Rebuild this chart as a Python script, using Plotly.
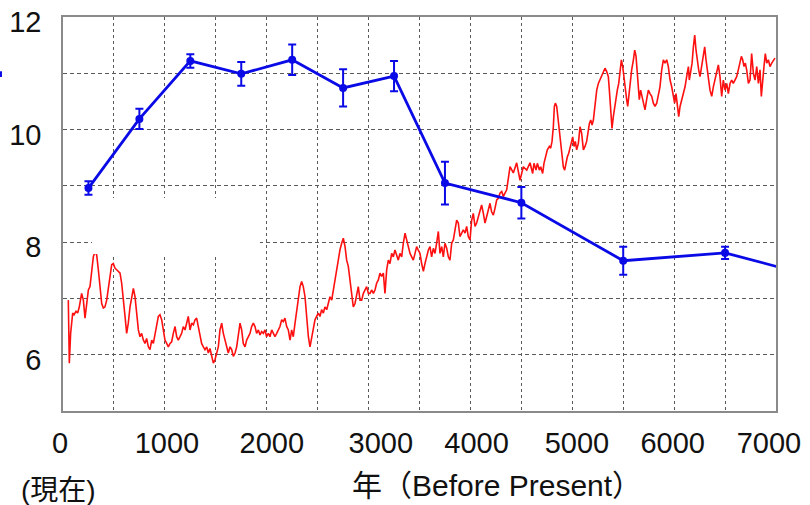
import plotly.graph_objects as go

# Blue series (with error bars)
blue_years = [250, 750, 1250, 1750, 2250, 2750, 3250, 3750, 4500, 5500, 6500, 7500]
blue_vals = [8.96, 10.19, 11.22, 10.99, 11.24, 10.74, 10.95, 9.05, 8.70, 7.67, 7.81, 7.33]
blue_err = [0.12, 0.18, 0.12, 0.21, 0.27, 0.33, 0.27, 0.38, 0.28, 0.25, 0.11, 0.0]

# Red series
red_years = [52, 62, 75, 95, 108, 128, 144, 160, 183, 200, 216, 232, 249, 265, 281, 298, 314, 331, 347, 363,
             380, 396, 412, 429, 445, 461, 478, 494, 510, 527, 543, 560, 576, 592, 609, 625, 641, 658, 674, 691,
             707, 723, 740, 756, 772, 789, 805, 821, 838, 854, 871, 887, 903, 920, 936, 952, 969, 985, 1001, 1018,
             1034, 1051, 1067, 1083, 1100, 1116, 1132, 1149, 1165, 1181, 1198, 1214, 1230, 1247, 1263, 1280, 1296,
             1312, 1329, 1345, 1361, 1378, 1394, 1411, 1427, 1443, 1460, 1476, 1492, 1509, 1525, 1541, 1558, 1574,
             1591, 1607, 1623, 1640, 1656, 1672, 1689, 1705, 1721, 1738, 1754, 1770, 1787, 1803, 1820, 1836, 1852,
             1869, 1885, 1901, 1918, 1934, 1950, 1967, 1983, 1999, 2016,
             2032, 2049, 2065, 2081, 2098, 2114, 2130, 2147, 2163, 2179, 2196, 2212, 2229, 2245, 2261, 2278, 2294,
             2310, 2327, 2343, 2359, 2376, 2392, 2409, 2425, 2441, 2458, 2474, 2490, 2507, 2523, 2539, 2556, 2572,
             2589, 2605, 2621, 2638, 2654, 2670, 2687, 2703, 2719, 2736, 2752, 2769, 2785, 2801, 2818, 2834, 2850,
             2867, 2883, 2899, 2916, 2932, 2949, 2965, 2981, 2998, 3014, 3030, 3047, 3063, 3079, 3096, 3112, 3128,
             3145, 3161, 3171, 3178, 3194, 3210, 3227, 3243, 3259, 3276, 3292, 3308, 3325, 3341, 3358, 3374, 3390,
             3407, 3423, 3439, 3456, 3472, 3488, 3505, 3521, 3538, 3554, 3570, 3587, 3603, 3619, 3636, 3652, 3668,
             3685, 3701, 3718, 3734, 3750, 3767, 3783, 3799, 3816, 3832, 3848, 3865, 3881, 3897, 3914, 3930, 3947,
             3963, 3979, 3996, 4012, 4028, 4045, 4061, 4078, 4094, 4110, 4127, 4143, 4159, 4176, 4192, 4208, 4225,
             4241, 4258, 4274, 4290, 4307, 4323, 4339, 4356,
             4389, 4421, 4454, 4487, 4519, 4553, 4585,
             4611, 4624, 4644, 4657, 4677, 4690, 4709, 4722, 4742, 4755, 4775, 4788, 4801, 4814, 4824, 4834, 4847,
             4860, 4873, 4886, 4899, 4912, 4925, 4938, 4952, 4965, 4978, 4994, 5004, 5017, 5030, 5043, 5060, 5076,
             5092, 5109, 5125, 5141, 5158, 5168, 5181, 5194, 5207, 5223, 5240, 5256, 5272, 5289, 5305, 5321, 5338,
             5354, 5364, 5377, 5390, 5403, 5420, 5429, 5442, 5456, 5469, 5482, 5495, 5508, 5521, 5534, 5544, 5554,
             5567, 5583, 5600, 5613, 5626, 5639, 5649, 5658, 5671, 5685, 5698, 5714, 5730, 5747, 5763, 5780, 5796,
             5812, 5829, 5845, 5861, 5878, 5894, 5910, 5927, 5943, 5960, 5976, 5992, 6005, 6018, 6031, 6045, 6058,
             6074, 6090, 6107, 6123, 6140, 6149, 6162, 6176, 6189, 6202, 6215, 6228, 6241, 6254, 6270, 6287, 6300,
             6313, 6326, 6339, 6352, 6369, 6385, 6401, 6418, 6434, 6450, 6467, 6483, 6500, 6516, 6532, 6549, 6565,
             6581, 6598, 6614, 6630, 6647, 6660, 6673, 6686, 6699, 6712, 6729, 6745, 6761, 6778, 6794, 6811, 6827,
             6843, 6856, 6869, 6882, 6895, 6909, 6925, 6941, 6958, 6974, 6990]
red_vals = [6.97, 5.85, 6.38, 6.74, 6.71, 6.77, 6.74, 6.85, 7.09, 6.97, 6.65, 6.91, 7.15, 7.21, 7.45, 7.74, 7.83, 7.77, 7.51, 7.15,
            6.91, 6.83, 6.85, 6.97, 7.21, 7.45, 7.60, 7.62, 7.54, 7.51, 7.48, 7.45, 7.27, 7.03, 6.68, 6.38, 6.56, 6.85, 7.03, 7.18,
            7.03, 6.74, 6.44, 6.32, 6.38, 6.26, 6.20, 6.29, 6.14, 6.09, 6.26, 6.20, 6.38, 6.56, 6.68, 6.71, 6.62, 6.44, 6.26, 6.20,
            6.14, 6.20, 6.23, 6.38, 6.50, 6.32, 6.26, 6.32, 6.38, 6.50, 6.44, 6.56, 6.68, 6.44, 6.56, 6.53, 6.62,
            6.65, 6.50, 6.38, 6.20, 6.14, 6.09, 6.14, 6.03, 6.11, 5.97, 5.85, 5.91, 6.03, 6.14, 6.44, 6.56, 6.38,
            6.26, 6.14, 6.03, 6.14, 6.09, 5.97, 6.03, 6.14, 6.38, 6.56, 6.44, 6.20, 6.14, 6.26, 6.32, 6.38, 6.50,
            6.56, 6.50, 6.38, 6.44, 6.35, 6.41, 6.38, 6.44, 6.32, 6.38,
            6.32, 6.44, 6.38, 6.32, 6.38, 6.44, 6.50, 6.62, 6.59, 6.65, 6.50, 6.44, 6.26, 6.44, 6.32, 6.56, 6.80,
            7.03, 7.21, 7.30, 7.21, 7.03, 6.68, 6.32, 6.14, 6.32, 6.44, 6.62, 6.68, 6.74, 6.68, 6.80, 6.74, 6.85,
            6.80, 6.91, 7.03, 6.97, 7.15, 7.27, 7.45, 7.68, 7.86, 7.98, 8.07, 7.92, 7.68, 7.57, 7.33, 7.03, 6.85,
            6.91, 7.09, 7.21, 6.97, 6.97, 7.09, 7.15, 7.21, 7.09, 7.09, 7.15, 7.09, 7.15, 7.27, 7.33, 7.45, 7.39,
            7.45, 7.09, 7.45, 7.51, 7.68, 7.62, 7.80, 7.74, 7.86, 7.74, 7.68, 7.80, 7.74, 7.98, 8.16, 8.04, 7.92,
            7.80, 7.74, 7.68, 7.80, 7.92, 7.86, 7.80, 7.62, 7.48, 7.62, 7.74, 7.86, 7.92, 7.74, 7.89, 7.80, 7.98,
            8.19, 7.80, 7.92, 7.74, 7.98, 7.89, 7.74, 7.68, 7.98, 8.04, 8.22, 8.39, 8.34, 8.10, 8.16, 8.22, 8.16,
            8.28, 8.10, 8.04, 8.39, 8.51, 8.28, 8.34, 8.45, 8.57, 8.66, 8.51, 8.34, 8.45, 8.57, 8.69, 8.54, 8.48,
            8.60, 8.75, 8.78, 8.87, 8.90, 8.81, 8.87, 8.93,
            9.34, 9.23, 9.41, 9.10, 9.34, 9.28, 9.41,
            9.22, 9.40, 9.28, 9.40, 9.28, 9.34, 9.22, 9.40, 9.58, 9.64, 9.70, 9.67, 9.79, 10.05, 10.41, 10.47, 10.41,
            10.17, 9.93, 9.70, 9.52, 9.34, 9.28, 9.40, 9.52, 9.58, 9.70, 9.79, 9.87, 9.70, 9.79, 9.64, 9.76, 10.05,
            9.93, 9.64, 9.70, 9.79, 9.99, 10.11, 10.17, 10.08, 10.17, 10.41, 10.70, 10.82, 10.88, 10.94, 11.03, 11.09, 11.03,
            10.94, 10.70, 10.35, 10.02, 10.23, 10.47, 10.59, 10.70, 10.82, 11.03, 11.24, 11.12, 10.88, 10.70, 10.53, 10.41, 10.59,
            10.88, 11.06, 11.24, 11.41, 11.30, 10.94, 10.59, 10.53, 10.70, 10.59, 10.47, 10.35, 10.53, 10.70, 10.64, 10.59, 10.47,
            10.41, 10.47, 10.59, 10.76, 11.06, 11.24, 11.18, 11.24, 11.12, 10.88, 10.76, 10.59, 10.47, 10.64, 10.41, 10.23, 10.41,
            10.53, 10.64, 10.76, 10.94, 11.12, 10.88, 11.00, 11.18, 11.47, 11.68, 11.41, 11.18, 11.06, 10.94, 11.12, 11.30, 11.47,
            11.24, 11.00, 10.88, 10.70, 10.59, 10.76, 10.88, 11.00, 11.15, 10.94, 10.59, 10.88, 10.70, 10.82, 10.64, 10.82, 10.88,
            10.82, 10.88, 10.94, 11.06, 11.24, 11.30, 11.24, 11.12, 11.18, 11.06, 10.82, 10.88, 11.35, 11.00, 10.88, 11.12, 10.82,
            11.06, 10.59, 10.94, 11.12, 11.35, 11.18, 11.24, 11.12, 11.18, 11.24, 11.27]

# Axis grid (every 500 years / every 1 unit) and tick labels
x_grid = [0, 500, 1000, 1500, 2000, 2500, 3000, 3500, 4000, 4500, 5000, 5500, 6000, 6500, 7000]
x_label_pos = [0, 1050, 2080, 3150, 4090, 5075, 6015, 6960]   # where the pasted labels sit in the reference
x_labels = ["0", "1000", "2000", "3000", "4000", "5000", "6000", "7000"]
y_grid = [5, 6, 7, 8, 9, 10, 11, 12]
y_label_pos = [6, 8, 10, 12]
y_labels = ["6", "8", "10", "12"]

FONT = "Liberation Sans, Arial, Noto Sans CJK JP, sans-serif"
BLUE = "#0a0ae6"
RED = "#ff1010"

fig = go.Figure()
fig.add_trace(go.Scatter(
    x=red_years, y=red_vals, mode="lines",
    line=dict(color=RED, width=1.6), hoverinfo="skip", showlegend=False))
fig.add_trace(go.Scatter(
    x=blue_years, y=blue_vals, mode="lines+markers",
    line=dict(color=BLUE, width=2.8),
    marker=dict(color=BLUE, size=8),
    error_y=dict(type="data", array=blue_err, visible=True, color=BLUE, thickness=2, width=4),
    cliponaxis=True, showlegend=False))

grid_color = "#5a5a5a"
fig.update_xaxes(
    range=[0, 7000], tickvals=x_label_pos, ticktext=x_labels, showgrid=False,
    minor=dict(tickvals=x_grid, showgrid=True, gridcolor=grid_color, griddash="3px,3px", gridwidth=1, ticks=""),
    showline=True, mirror=True, linecolor="#8a8a8a", linewidth=1.5,
    ticks="", zeroline=False,
    tickfont=dict(family=FONT, size=29, color="#111"),
    ticklabelstandoff=5, ticklabelshift=-3)
fig.update_yaxes(
    range=[5, 12], tickvals=y_label_pos, ticktext=y_labels, showgrid=False,
    minor=dict(tickvals=y_grid, showgrid=True, gridcolor=grid_color, griddash="4px,3px", gridwidth=1, ticks=""),
    showline=True, mirror=True, linecolor="#8a8a8a", linewidth=1.5,
    ticks="", zeroline=False,
    tickfont=dict(family=FONT, size=29, color="#111"),
    ticklabelstandoff=14, ticklabelshift=5)

# white mask box covering part of plot (as in the reference)
fig.add_shape(type="rect", xref="x", yref="y", x0=285, x1=1934, y0=7.79, y1=8.785,
              fillcolor="white", line=dict(width=0), layer="above")
# tiny blue mark at far left edge
fig.add_shape(type="line", xref="paper", yref="paper", x0=-0.087, x1=-0.087, y0=0.848, y1=0.862,
              line=dict(color=BLUE, width=2))

fig.add_annotation(text="年（Before Present）", xref="paper", yref="paper",
                   x=(497 - 63) / 713, y=-(485 - 411) / 394, xanchor="center", yanchor="middle",
                   showarrow=False, font=dict(family=FONT, size=30, color="#111"))
fig.add_annotation(text="(現在)", xref="paper", yref="paper",
                   x=(58 - 63) / 713, y=-(490 - 411) / 394, xanchor="center", yanchor="middle",
                   showarrow=False, font=dict(family=FONT, size=28, color="#111"))

fig.update_layout(
    width=810, height=505,
    margin=dict(l=63, r=34, t=17, b=94, autoexpand=False),
    paper_bgcolor="white", plot_bgcolor="white",
    showlegend=False)

fig.write_html("out.html")
